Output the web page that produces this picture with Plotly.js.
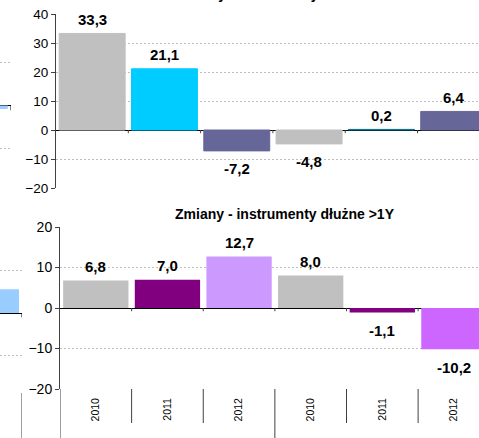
<!DOCTYPE html>
<html>
<head>
<meta charset="utf-8">
<script src="https://cdn.plot.ly/plotly-3.0.1.min.js"></script>
<style>
  html, body { margin: 0; padding: 0; background: #fff; overflow: hidden; }
  #chart { width: 479px; height: 438px; }
</style>
</head>
<body>
<div id="chart"></div>
<script>
// ---- data ----
const categories = ['2010', '2011', '2012', '2010', '2011', '2012'];
const groups = ['Q1', 'Q3'];
const topTitle = 'Zmiany - instrumenty dłużne <1Y';
const topValues = [33.3, 21.1, -7.2, -4.8, 0.2, 6.4];
const topColors = ['#C0C0C0', '#00CCFF', '#666699', '#C0C0C0', '#0A6E8A', '#666699'];
const bottomTitle = 'Zmiany - instrumenty dłużne >1Y';
const bottomValues = [6.8, 7.0, 12.7, 8.0, -1.1, -10.2];
const bottomColors = ['#C0C0C0', '#800080', '#CC99FF', '#C0C0C0', '#800080', '#CC66FF'];
// partially visible neighbouring charts on the left edge
const neighborTopValues = [-0.8];
const neighborBottomValues = [5.6];

// ---- helpers ----
const W = 479, H = 438;
const px = v => v / W;
const py = v => 1 - v / H;
const FONT = 'Liberation Sans, Arial, sans-serif';
const fmt = v => v.toFixed(1).replace('.', ',');
const idx = categories.map((_, i) => i);

const traces = [
  { type: 'bar', x: idx, y: topValues, marker: { color: topColors, line: { width: 1, color: topColors } },
    xaxis: 'x', yaxis: 'y', hoverinfo: 'skip' },
  { type: 'bar', x: idx, y: bottomValues, marker: { color: bottomColors, line: { width: 0 } },
    xaxis: 'x2', yaxis: 'y2', hoverinfo: 'skip' },
  { type: 'bar', x: [0], y: neighborTopValues, width: 0.91, marker: { color: '#99CCFF' },
    xaxis: 'x3', yaxis: 'y3', hoverinfo: 'skip' },
  { type: 'bar', x: [0], y: neighborBottomValues, width: 0.91, marker: { color: '#99CCFF' },
    xaxis: 'x4', yaxis: 'y4', hoverinfo: 'skip' }
];

const gridStyle = { showgrid: true, gridcolor: '#BEBEBE', gridwidth: 1, griddash: '2px,2px' };
const yBase = Object.assign({
  dtick: 10, tick0: 0, zeroline: true, zerolinecolor: '#000', zerolinewidth: 1,
  showline: true, linecolor: '#404040', linewidth: 1, ticks: 'outside', ticklen: 4,
  tickcolor: '#404040', fixedrange: true
}, gridStyle);

const annotations = [];
topValues.forEach((v, i) => annotations.push({
  xref: 'x', yref: 'y', x: i, y: v, text: '<b>' + fmt(v) + '</b>', showarrow: false,
  yshift: v >= 0 ? 14 : -18, font: { family: FONT, size: 15, color: '#000' }
}));
bottomValues.forEach((v, i) => annotations.push({
  xref: 'x2', yref: 'y2', x: i, y: v, text: '<b>' + fmt(v) + '</b>', showarrow: false,
  yshift: v >= 0 ? 14 : -18, font: { family: FONT, size: 15, color: '#000' }
}));
annotations.push({
  xref: 'paper', yref: 'paper', x: px(285), y: py(214), text: '<b>' + bottomTitle + '</b>',
  showarrow: false, xanchor: 'center', yanchor: 'middle', font: { family: FONT, size: 14, color: '#000' }
});
annotations.push({
  xref: 'paper', yref: 'paper', x: px(287), y: py(-6), text: '<b>' + topTitle + '</b>',
  showarrow: false, xanchor: 'center', yanchor: 'middle', font: { family: FONT, size: 14, color: '#000' }
});
groups.forEach((g, k) => annotations.push({
  xref: 'x2', yref: 'paper', x: 3 * k + 1, y: py(442), text: g, showarrow: false,
  yanchor: 'middle', font: { family: FONT, size: 13, color: '#000' }
}));

const shapes = [];
const lineCol = '#404040';
// small ticks under zero lines at category boundaries
for (let i = 0; i < categories.length - 1; i++) {
  shapes.push({ type: 'line', xref: 'x', yref: 'y', x0: i + 0.5, x1: i + 0.5, y0: 0, y1: -1.1,
    line: { color: lineCol, width: 1 } });
  shapes.push({ type: 'line', xref: 'x2', yref: 'y2', x0: i + 0.5, x1: i + 0.5, y0: 0, y1: -0.8,
    line: { color: lineCol, width: 1 } });
}
// category label separators (bottom chart)
for (let i = 0; i < categories.length; i++) {
  const b = i - 0.5;
  const isGroup = (i % 3 === 0);
  shapes.push({ type: 'line', xref: 'x2', yref: 'paper', x0: b, x1: b,
    y0: py(389), y1: isGroup ? py(445) : py(423), line: { color: lineCol, width: 1 } });
}
// neighbour chart details
shapes.push({ type: 'line', xref: 'x3', yref: 'y3', x0: 0.5, x1: 0.5, y0: 0, y1: -1.1, line: { color: '#000', width: 1 } });
shapes.push({ type: 'line', xref: 'x4', yref: 'y4', x0: 0.5, x1: 0.5, y0: 0, y1: -1, line: { color: '#000', width: 1 } });
shapes.push({ type: 'line', xref: 'x4', yref: 'paper', x0: 0.5, x1: 0.5, y0: py(393), y1: py(445), line: { color: lineCol, width: 1 } });

const layout = {
  width: W, height: H,
  margin: { l: 0, r: 0, t: 0, b: 0, pad: 0 },
  paper_bgcolor: '#fff', plot_bgcolor: 'rgba(0,0,0,0)',
  showlegend: false, bargap: 0.088,
  font: { family: FONT, color: '#000' },
  xaxis: { domain: [px(56), 1], range: [-0.5, 5.35], anchor: 'y', showgrid: false, zeroline: false,
    showline: false, showticklabels: false, ticks: '', fixedrange: true },
  yaxis: Object.assign({}, yBase, { domain: [py(188), py(14)], range: [-20, 40], anchor: 'x',
    tickfont: { family: FONT, size: 13.5, color: '#000' } }),
  xaxis2: { domain: [px(60), 1], range: [-0.5, 5.35], anchor: 'y2', showgrid: false, zeroline: false,
    showline: false, ticks: '', tickmode: 'array', tickvals: idx, ticktext: categories, tickangle: -90,
    ticklabelstandoff: 6, tickfont: { family: FONT, size: 10.5, color: '#000' }, fixedrange: true },
  yaxis2: Object.assign({}, yBase, { domain: [py(389), py(227)], range: [-20, 20], anchor: 'x2',
    tickfont: { family: FONT, size: 14, color: '#000' } }),
  xaxis3: { domain: [0, px(11)], range: [0.347, 0.5], anchor: 'y3', visible: false, fixedrange: true },
  yaxis3: Object.assign({}, gridStyle, { domain: [py(192), py(19)], range: [-20, 20], dtick: 10, tick0: 0,
    anchor: 'x3', zeroline: true, zerolinecolor: '#000', showline: false, showticklabels: false, ticks: '', fixedrange: true }),
  xaxis4: { domain: [0, px(22)], range: [0.172, 0.5], anchor: 'y4', visible: false, fixedrange: true },
  yaxis4: Object.assign({}, gridStyle, { domain: [py(398), py(228)], range: [-20, 20], dtick: 10, tick0: 0,
    anchor: 'x4', zeroline: true, zerolinecolor: '#000', showline: false, showticklabels: false, ticks: '', fixedrange: true }),
  annotations: annotations,
  shapes: shapes
};

Plotly.newPlot('chart', traces, layout, { displayModeBar: false, staticPlot: true });
</script>
</body>
</html>
